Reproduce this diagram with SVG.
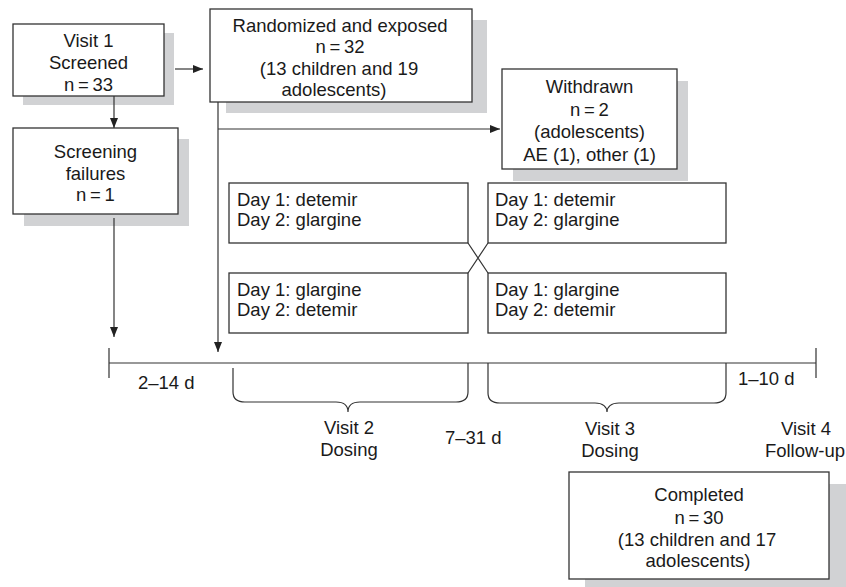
<svg xmlns="http://www.w3.org/2000/svg" width="846" height="587" viewBox="0 0 846 587">
<style>
text{font-family:"Liberation Sans",Arial,sans-serif;font-size:18.5px;fill:#1a1a1a}
.c{text-anchor:middle}
.box{fill:#fff;stroke:#333;stroke-width:1.3}
.sh{fill:#d1d2d4}
.ln{fill:none;stroke:#333;stroke-width:1.2}
</style>
<defs>
<marker id="ah" markerUnits="userSpaceOnUse" markerWidth="10" markerHeight="10" viewBox="0 0 10 10" refX="10" refY="5" orient="auto">
<path d="M0,1 L10,5 L0,9 Z" fill="#222"/>
</marker>
</defs>
<rect width="846" height="587" fill="#fff"/>

<g id="visit1">
<rect class="sh" x="23" y="33" width="151" height="72"/>
<rect class="box" x="13" y="24" width="151" height="72"/>
<text class="c" x="88.5" y="47">Visit 1</text>
<text class="c" x="88.5" y="69">Screened</text>
<text class="c" x="88.5" y="91">n&#8201;=&#8201;33</text>
</g>

<g id="screenfail">
<rect class="sh" x="24" y="139" width="165" height="87"/>
<rect class="box" x="13" y="128" width="165" height="86"/>
<text class="c" x="95.5" y="158">Screening</text>
<text class="c" x="95.5" y="180">failures</text>
<text class="c" x="95.5" y="201">n&#8201;=&#8201;1</text>
</g>

<g id="randomized">
<rect class="sh" x="226" y="20" width="261" height="93"/>
<rect class="box" x="210" y="9" width="262" height="93"/>
<text class="c" x="340" y="32">Randomized and exposed</text>
<text class="c" x="340" y="53">n&#8201;=&#8201;32</text>
<text class="c" x="339" y="75">(13 children and 19</text>
<text class="c" x="334" y="96">adolescents)</text>
</g>

<g id="withdrawn">
<rect class="sh" x="513" y="81" width="175" height="100"/>
<rect class="box" x="502" y="69" width="175" height="100"/>
<text class="c" x="589.5" y="93">Withdrawn</text>
<text class="c" x="589.5" y="116">n&#8201;=&#8201;2</text>
<text class="c" x="589.5" y="138">(adolescents)</text>
<text class="c" x="589.5" y="161">AE (1), other (1)</text>
</g>

<g id="dayTL">
<rect class="box" x="229" y="183" width="239" height="60"/>
<text x="237" y="206">Day 1: detemir</text>
<text x="237" y="226">Day 2: glargine</text>
</g>
<g id="dayBL">
<rect class="box" x="229" y="273" width="239" height="60"/>
<text x="237" y="296">Day 1: glargine</text>
<text x="237" y="316">Day 2: detemir</text>
</g>
<g id="dayTR">
<rect class="box" x="488" y="183" width="238" height="60"/>
<text x="495" y="206">Day 1: detemir</text>
<text x="495" y="226">Day 2: glargine</text>
</g>
<g id="dayBR">
<rect class="box" x="488" y="273" width="238" height="60"/>
<text x="495" y="296">Day 1: glargine</text>
<text x="495" y="316">Day 2: detemir</text>
</g>

<g id="completed">
<rect class="sh" x="585" y="484" width="261" height="103"/>
<rect class="box" x="569" y="472" width="260" height="107"/>
<text class="c" x="699" y="501">Completed</text>
<text class="c" x="699" y="524">n&#8201;=&#8201;30</text>
<text class="c" x="697" y="546">(13 children and 17</text>
<text class="c" x="698" y="567">adolescents)</text>
</g>

<g id="labels">
<text x="138" y="389">2–14 d</text>
<text x="738" y="385">1–10 d</text>
<text x="445" y="444">7–31 d</text>
<text class="c" x="349" y="434">Visit 2</text>
<text class="c" x="349" y="456">Dosing</text>
<text class="c" x="610" y="435">Visit 3</text>
<text class="c" x="610" y="457">Dosing</text>
<text class="c" x="806" y="435">Visit 4</text>
<text class="c" x="805" y="457">Follow-up</text>
</g>

<g id="connectors">
<line class="ln" x1="175" y1="69" x2="203" y2="69" marker-end="url(#ah)"/>
<line class="ln" x1="114" y1="96" x2="114" y2="128" marker-end="url(#ah)"/>
<line class="ln" x1="114" y1="218" x2="114" y2="337" marker-end="url(#ah)"/>
<line class="ln" x1="218" y1="102" x2="218" y2="352" marker-end="url(#ah)"/>
<line class="ln" x1="218" y1="129" x2="500" y2="129" marker-end="url(#ah)"/>
<path class="ln" d="M468,243 L488,273 M488,243 L468,273"/>
<path class="ln" d="M109,363 H816 M109,348 V378 M816,348 V378"/>
<path class="ln" d="M233,368 V392 Q233,402 245,402 H336 C344,402 348,406 348,412 C348,406 352,402 360,402 H456 Q468,402 468,392 V363"/>
<path class="ln" d="M488,363 V393 Q488,403 500,403 H595 C603,403 607,407 607,412 C607,407 611,403 619,403 H714 Q726,403 726,393 V363"/>
</g>
</svg>
